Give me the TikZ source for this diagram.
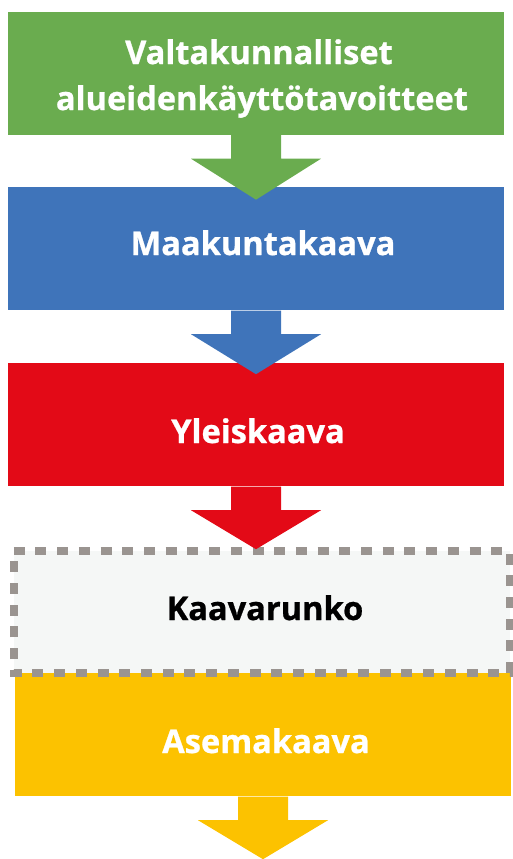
\documentclass[tikz,border=0pt]{standalone}
\usepackage{fontspec}
\setmainfont{Open Sans}[BoldFeatures={FakeBold=0.8}]
\definecolor{cgreen}{HTML}{6AAC4F}
\definecolor{cblue}{HTML}{3F74BA}
\definecolor{cred}{HTML}{E30A17}
\definecolor{cyellow}{HTML}{FCC200}
\definecolor{cdash}{HTML}{9A9490}
\definecolor{cpale}{HTML}{F5F7F6}
\tikzset{
  box/.style={rectangle, inner sep=0pt, minimum width=496bp, draw=none},
  lbl/.style={anchor=base, inner sep=0pt, font=\fontsize{32.6bp}{46bp}\selectfont\bfseries},
}
\newcommand{\blockarrow}[3]{% node, colour, tip y
  \fill[#2] ($(#1.south)+(-25,0.5)$) -- ($(#1.south)+(-25,24)$) -- ($(#1.south)+(-65,24)$)
    -- ($(#1.south)+(0,#3)$) -- ($(#1.south)+(65,24)$) -- ($(#1.south)+(25,24)$)
    -- ($(#1.south)+(25,0.5)$) -- cycle;}
\usetikzlibrary{calc}
\begin{document}
\begin{tikzpicture}[x=1bp,y=-1bp]
\useasboundingbox (0,0) rectangle (513,859);
\node[box, fill=cgreen, minimum height=122.5bp] (g) at (256,73.25) {};
\node[box, fill=cblue, minimum height=123bp] (b) at (256,248.5) {};
\node[box, fill=cred, minimum height=123bp] (r) at (256,424.5) {};
\node[box, fill=cyellow, minimum height=124bp] (y) at (263,734) {};
\node[box, fill=cpale, minimum height=121.5bp] (k) at (262,611.75) {};
\draw[cdash, line width=7.6bp, dash pattern=on 11bp off 10.7bp] (k.north west) -- (k.north east) -- (k.south east) -- (k.south west) -- cycle;
\blockarrow{g}{cgreen}{65}
\blockarrow{b}{cblue}{64}
\blockarrow{r}{cred}{63}
\blockarrow{y}{cyellow}{63}
\node[lbl, text=white] (g1) at (259,64) {Valtakunnalliset};
\node[lbl, text=white] (g2) at (262,110) {alueidenkäyttötavoitteet};
\node[lbl, text=white] (bt) at (263,255) {Maakuntakaava};
\node[lbl, text=white] (rt) at (258,443) {Yleiskaava};
\node[lbl, text=black] (kt) at (265,620) {Kaavarunko};
\node[lbl, text=white] (yt) at (266,753) {Asemakaava};
\end{tikzpicture}
\end{document}
